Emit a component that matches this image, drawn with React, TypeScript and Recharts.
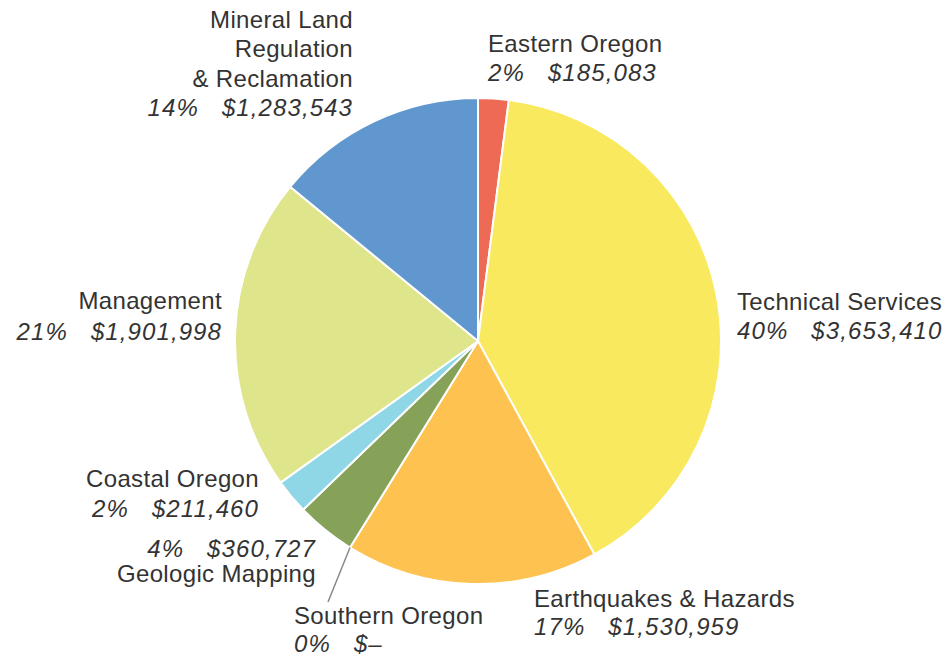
import React from 'react';
import { PieChart, Pie, Cell } from 'recharts';

// Budget by program, clockwise from 12 o'clock
const categories = [
  'Eastern Oregon',
  'Technical Services',
  'Earthquakes & Hazards',
  'Southern Oregon',
  'Geologic Mapping',
  'Coastal Oregon',
  'Management',
  'Mineral Land Regulation & Reclamation',
];
const categoryLines = [
  ['Eastern Oregon'],
  ['Technical Services'],
  ['Earthquakes & Hazards'],
  ['Southern Oregon'],
  ['Geologic Mapping'],
  ['Coastal Oregon'],
  ['Management'],
  ['Mineral Land', 'Regulation', '& Reclamation'],
];
const amounts = [185083, 3653410, 1530959, 0, 360727, 211460, 1901998, 1283543];
const colors = ['#ee6a55', '#f8e95e', '#fdc24f', '#c9c9c9', '#86a259', '#8fd7e7', '#dfe58b', '#6197cf'];

// label placement relative to pie center: x, baselines for each line, anchor, value-line first?
const labelLayout = [
  { dx: 10, dy: [-289, -260], anchor: 'start', valueFirst: false },
  { dx: 259, dy: [-31, -2], anchor: 'start', valueFirst: false },
  { dx: 56, dy: [266, 294], anchor: 'start', valueFirst: false },
  { dx: -184, dy: [283, 311], anchor: 'start', valueFirst: false, leader: { dx: -150, dy: 261 } },
  { dx: -162, dy: [216, 241], anchor: 'end', valueFirst: true },
  { dx: -219, dy: [146, 176], anchor: 'end', valueFirst: false },
  { dx: -256, dy: [-32, -1], anchor: 'end', valueFirst: false },
  { dx: -125, dy: [-313, -284, -254, -225], anchor: 'end', valueFirst: false },
];

const data = categories.map((name, i) => ({ name, value: amounts[i] }));

const RAD = Math.PI / 180;

const formatMoney = (v: number) => (v === 0 ? '$–' : '$' + v.toLocaleString('en-US'));

const renderLabel = (props: any) => {
  const { cx, cy, midAngle, outerRadius, percent, index, value } = props;
  const lay = labelLayout[index];
  if (!lay) return null;
  const names = categoryLines[index];
  const valueLine = (
    <>
      <tspan>{Math.round(percent * 100)}%</tspan>
      <tspan dx={23}>{formatMoney(value)}</tspan>
    </>
  );
  const lines: { italic: boolean; content: React.ReactNode }[] = names.map((n) => ({ italic: false, content: n }));
  if (lay.valueFirst) lines.unshift({ italic: true, content: valueLine });
  else lines.push({ italic: true, content: valueLine });

  let leader = null;
  if (lay.leader) {
    const sx = cx + outerRadius * Math.cos(-midAngle * RAD);
    const sy = cy + outerRadius * Math.sin(-midAngle * RAD);
    leader = <line x1={sx} y1={sy} x2={cx + lay.leader.dx} y2={cy + lay.leader.dy} stroke="#8a8a8a" strokeWidth={1.5} />;
  }

  return (
    <g key={'lbl-' + index}>
      {leader}
      {lines.map((ln, k) => (
        <text
          key={k}
          x={cx + lay.dx}
          y={cy + lay.dy[k]}
          textAnchor={lay.anchor as any}
          fill="#333333"
          fontSize={24}
          letterSpacing={ln.italic ? 1.1 : 0.35}
          fontStyle={ln.italic ? 'italic' : 'normal'}
          fontFamily='"Liberation Sans", Arial, sans-serif'
        >
          {ln.content}
        </text>
      ))}
    </g>
  );
};

const App: React.FC = () => {
  return (
    <div style={{ position: 'absolute', left: 0, top: 0, width: 951, height: 659, background: '#fff' }}>
      <PieChart width={951} height={659} margin={{ top: 0, right: 0, bottom: 0, left: 0 }}>
        <Pie
          data={data}
          dataKey="value"
          nameKey="name"
          cx={478}
          cy={341}
          outerRadius={243}
          startAngle={90}
          endAngle={-270}
          stroke="#ffffff"
          strokeWidth={2}
          label={renderLabel}
          labelLine={false}
          isAnimationActive={false}
        >
          {data.map((d, i) => (
            <Cell key={d.name} fill={colors[i]} />
          ))}
        </Pie>
      </PieChart>
    </div>
  );
};

export default App;
